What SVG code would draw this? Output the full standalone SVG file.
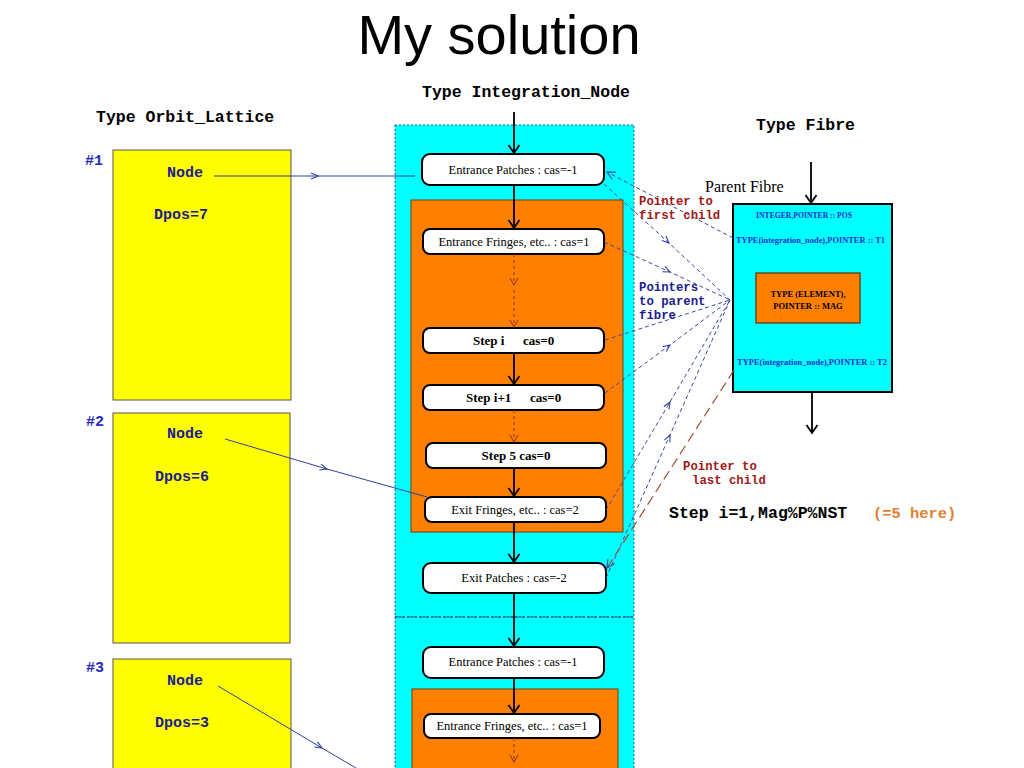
<svg xmlns="http://www.w3.org/2000/svg" width="1024" height="768" viewBox="0 0 1024 768">
<defs>
<style>
.title{font-family:"Liberation Sans",Arial,sans-serif;font-size:56px;fill:#000}
.hdr{font-family:"Liberation Mono","Courier New",monospace;font-size:16.5px;font-weight:bold;fill:#000}
.num{font-family:"Liberation Mono","Courier New",monospace;font-size:15px;font-weight:bold;fill:#2a2ab8}
.nd{font-family:"Liberation Mono","Courier New",monospace;font-size:15px;font-weight:bold;fill:#1c1c90}
.yel{fill:#ffff00;stroke:#555;stroke-width:1}
.cyan{fill:#00ffff;stroke:#2a5a80;stroke-width:1;stroke-dasharray:2,2}
.orange{fill:#ff8000;stroke:#7a3a00;stroke-width:1}
.box{fill:#fff;stroke:#000;stroke-width:2}
.bt{font-family:"Liberation Serif","Times New Roman",serif;font-size:12.5px;fill:#000;text-anchor:middle}
.bb{font-family:"Liberation Serif","Times New Roman",serif;font-size:13px;font-weight:bold;fill:#000}
.fib{fill:#00ffff;stroke:#000;stroke-width:2}
.ft{font-family:"Liberation Serif","Times New Roman",serif;font-size:8.5px;font-weight:bold;fill:#1030d0}
.fo{font-family:"Liberation Serif","Times New Roman",serif;font-size:8.5px;font-weight:bold;fill:#000;text-anchor:middle}
.red{font-family:"Liberation Mono","Courier New",monospace;font-size:12.3px;font-weight:bold;fill:#a01818}
.blu{font-family:"Liberation Mono","Courier New",monospace;font-size:12.3px;font-weight:bold;fill:#1c1c90}
.solid{stroke:#000;stroke-width:1.8;fill:none;marker-end:url(#ah)}
.dbr{stroke:#a04020;stroke-width:1.2;fill:none;stroke-dasharray:3,3;marker-end:url(#ahb)}
.nl{stroke:#3040a0;stroke-width:1;fill:none;marker-mid:url(#am)}
.pp{stroke:#3848a0;stroke-width:1;fill:none;stroke-dasharray:4,3;marker-mid:url(#am)}
.lc{stroke:#a05030;stroke-width:1.2;fill:none;stroke-dasharray:10,5;marker-end:url(#ahl)}
</style>
<marker id="ah" markerWidth="14" markerHeight="14" refX="11" refY="7" orient="auto" markerUnits="userSpaceOnUse"><path d="M3,1.5 L11,7 L3,12.5" fill="none" stroke="#000" stroke-width="1.8"/></marker>
<marker id="ahb" markerWidth="12" markerHeight="12" refX="10" refY="6" orient="auto" markerUnits="userSpaceOnUse"><path d="M3,2 L10,6 L3,10" fill="none" stroke="#a04020" stroke-width="1.2"/></marker>
<marker id="am" markerWidth="12" markerHeight="12" refX="9" refY="6" orient="auto" markerUnits="userSpaceOnUse"><path d="M2,3 L9,6 L2,9" fill="none" stroke="#3040a0" stroke-width="1.1"/></marker>
<marker id="ahf" markerWidth="12" markerHeight="12" refX="10" refY="6" orient="auto" markerUnits="userSpaceOnUse"><path d="M2,2 L10,6 L2,10" fill="none" stroke="#3848a0" stroke-width="1.1"/></marker>
<marker id="ahl" markerWidth="12" markerHeight="12" refX="10" refY="6" orient="auto" markerUnits="userSpaceOnUse"><path d="M2,2 L10,6 L2,10" fill="none" stroke="#3848a0" stroke-width="1.1"/></marker>
</defs>
<rect width="1024" height="768" fill="#fff"/>
<text class="title" x="499" y="54" text-anchor="middle">My solution</text>
<text class="hdr" x="96" y="122">Type Orbit_Lattice</text>
<text class="hdr" x="422" y="97">Type Integration_Node</text>
<text class="hdr" x="756" y="130">Type Fibre</text>

<g id="lattice1">
<rect class="yel" x="113" y="150" width="178" height="250"/>
<text class="num" x="85" y="165">#1</text>
<text class="nd" x="167" y="177">Node</text>
<text class="nd" x="154" y="219">Dpos=7</text>
</g>
<g id="lattice2">
<rect class="yel" x="113" y="413" width="177" height="230"/>
<text class="num" x="86" y="426">#2</text>
<text class="nd" x="167" y="438">Node</text>
<text class="nd" x="155" y="481">Dpos=6</text>
</g>
<g id="lattice3">
<rect class="yel" x="113" y="659" width="178" height="120"/>
<text class="num" x="86" y="672">#3</text>
<text class="nd" x="167" y="685">Node</text>
<text class="nd" x="155" y="727">Dpos=3</text>
</g>

<g id="integration1">
<rect class="cyan" x="395" y="125" width="239" height="492"/>
<rect class="orange" x="411" y="200" width="212" height="332"/>
</g>
<g id="integration2">
<rect class="cyan" x="395" y="617" width="239" height="170"/>
<rect class="orange" x="412" y="689" width="206" height="100"/>
</g>
<line x1="395" y1="617" x2="634" y2="617" stroke="#2a5a80" stroke-width="1.2" stroke-dasharray="4,2"/>

<g id="entrancePatches1"><rect class="box" x="422" y="154" width="182" height="31" rx="8"/><text class="bt" x="513" y="174">Entrance Patches : cas=-1</text></g>
<g id="entranceFringes1"><rect class="box" x="423" y="229" width="181" height="25" rx="7"/><text class="bt" x="514" y="246">Entrance Fringes, etc.. : cas=1</text></g>
<g id="stepI"><rect class="box" x="423" y="328" width="181" height="25" rx="7"/><text class="bb" x="473" y="345">Step i</text><text class="bb" x="523" y="345">cas=0</text></g>
<g id="stepI1"><rect class="box" x="423" y="385" width="181" height="25" rx="7"/><text class="bb" x="466" y="402">Step i+1</text><text class="bb" x="530" y="402">cas=0</text></g>
<g id="step5"><rect class="box" x="426" y="443" width="180" height="25" rx="7"/><text class="bb" x="516" y="460" text-anchor="middle">Step 5  cas=0</text></g>
<g id="exitFringes"><rect class="box" x="425" y="497" width="181" height="25" rx="7"/><text class="bt" x="515" y="514">Exit Fringes, etc.. : cas=2</text></g>
<g id="exitPatches"><rect class="box" x="423" y="563" width="183" height="30" rx="8"/><text class="bt" x="514" y="582">Exit Patches : cas=-2</text></g>
<g id="entrancePatches2"><rect class="box" x="423" y="647" width="181" height="31" rx="8"/><text class="bt" x="513" y="666">Entrance Patches : cas=-1</text></g>
<g id="entranceFringes2"><rect class="box" x="424" y="714" width="176" height="24" rx="7"/><text class="bt" x="512" y="730">Entrance Fringes, etc.. : cas=1</text></g>

<g id="fibre">
<rect class="fib" x="733" y="204" width="159" height="188"/>
<text class="ft" x="756" y="218" textLength="96" lengthAdjust="spacingAndGlyphs">INTEGER,POINTER :: POS</text>
<text class="ft" x="736" y="243" textLength="149" lengthAdjust="spacingAndGlyphs">TYPE(integration_node),POINTER :: T1</text>
<rect x="756" y="273" width="104" height="50" fill="#ff8000" stroke="#5a3000" stroke-width="1.2"/>
<text class="fo" x="808" y="297">TYPE (ELEMENT),</text>
<text class="fo" x="808" y="309">POINTER  ::  MAG</text>
<text class="ft" x="737" y="365" textLength="150" lengthAdjust="spacingAndGlyphs">TYPE(integration_node),POINTER :: T2</text>
</g>
<text x="705" y="192" font-family="Liberation Serif, Times New Roman, serif" font-size="16" fill="#000">Parent Fibre</text>

<g id="connectors">
<path class="solid" d="M514,112 L514,153"/>
<path class="solid" d="M514,185 L514,228"/>
<path class="dbr" d="M514,254 L514,285"/>
<path class="dbr" d="M514,290 L514,327"/>
<path class="solid" d="M514,353 L514,384"/>
<path class="dbr" d="M514,410 L514,442"/>
<path class="solid" d="M514,468 L514,496"/>
<path class="solid" d="M514,522 L514,562"/>
<path class="solid" d="M514,593 L514,646"/>
<path class="solid" d="M514,678 L514,713"/>
<path class="dbr" d="M514,738 L514,762"/>
<path class="solid" d="M811,162 L811,203"/>
<path class="solid" d="M812,392 L812,433"/>
<path class="nl" d="M214,176 L318,176 L415,176"/>
<path class="nl" d="M225,439 L327,469 L427,497"/>
<path class="nl" d="M218,686 L322,748 L400,794"/>
<path d="M733,238 L607,172" stroke="#3848a0" stroke-width="1" fill="none" stroke-dasharray="4,3" marker-end="url(#ahf)"/>
<path class="pp" d="M604,184 L669,243 L730,300"/>
<path class="pp" d="M604,242 L670,272 L730,300"/>
<path d="M605,340 L730,300" stroke="#3848a0" stroke-width="1" fill="none" stroke-dasharray="4,3"/>
<path class="pp" d="M605,393 L670,345 L730,300"/>
<path class="pp" d="M606,510 L670,402 L730,300"/>
<path class="pp" d="M606,578 L670,435 L730,300"/>
<path class="lc" d="M734,370 L607,568"/>
</g>

<text class="red" x="639" y="205">Pointer to</text>
<text class="red" x="639" y="219">first child</text>
<text class="blu" x="639" y="291">Pointers</text>
<text class="blu" x="639" y="305">to parent</text>
<text class="blu" x="639" y="319">fibre</text>
<text class="red" x="683" y="470">Pointer to</text>
<text class="red" x="692" y="484">last child</text>
<text x="669" y="518" font-family="Liberation Mono, Courier New, monospace" font-size="16.5" font-weight="bold" fill="#000">Step i=1,Mag%P%NST</text>
<text x="873" y="518" font-family="Liberation Mono, Courier New, monospace" font-size="15.4" font-weight="bold" fill="#e08030">(=5 here)</text>
</svg>
